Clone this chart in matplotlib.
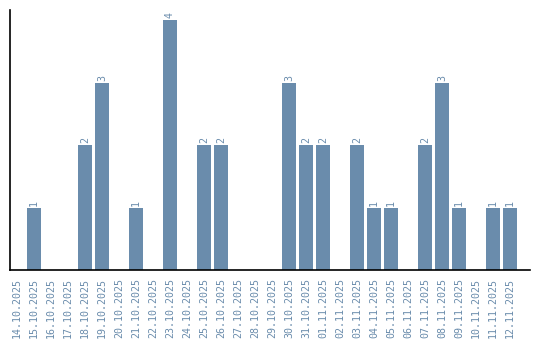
import matplotlib.pyplot as plt

DATES = ['14.10.2025', '15.10.2025', '16.10.2025', '17.10.2025', '18.10.2025',
         '19.10.2025', '20.10.2025', '21.10.2025', '22.10.2025', '23.10.2025',
         '24.10.2025', '25.10.2025', '26.10.2025', '27.10.2025', '28.10.2025',
         '29.10.2025', '30.10.2025', '31.10.2025', '01.11.2025', '02.11.2025',
         '03.11.2025', '04.11.2025', '05.11.2025', '06.11.2025', '07.11.2025',
         '08.11.2025', '09.11.2025', '10.11.2025', '11.11.2025', '12.11.2025']
COUNTS = [0, 1, 0, 0, 2, 3, 0, 1, 0, 4,
          0, 2, 2, 0, 0, 0, 3, 2, 2, 0,
          2, 1, 1, 0, 2, 3, 1, 0, 1, 1]

BAR_COLOR = '#6a8cac'
TEXT_COLOR = '#6a8cac'

if __name__ == "__main__":
    fig = plt.figure(figsize=(5.4, 3.4), dpi=100)
    ax = fig.add_axes([10 / 540, 70 / 340, 520 / 540, 260 / 340])

    x = list(range(len(DATES)))
    ax.bar(x, COUNTS, width=0.82, color=BAR_COLOR)
    for xi, c in zip(x, COUNTS):
        if c > 0:
            ax.text(xi, c + 0.03, str(c), rotation=90, ha='center', va='bottom',
                    color=TEXT_COLOR, fontsize=7.2, family='DejaVu Sans Mono')

    ax.set_xlim(-0.41, 30.18)
    ax.set_ylim(0, 4.16)
    ax.set_xticks(x)
    ax.set_xticklabels(DATES, rotation=90, color=TEXT_COLOR, fontsize=7.2,
                       family='DejaVu Sans Mono')
    ax.tick_params(axis='x', length=0, pad=6)
    ax.set_yticks([])
    ax.spines['top'].set_visible(False)
    ax.spines['right'].set_visible(False)
    ax.spines['left'].set_linewidth(1.2)
    ax.spines['bottom'].set_linewidth(1.2)

    plt.savefig('out.png', dpi=100)
